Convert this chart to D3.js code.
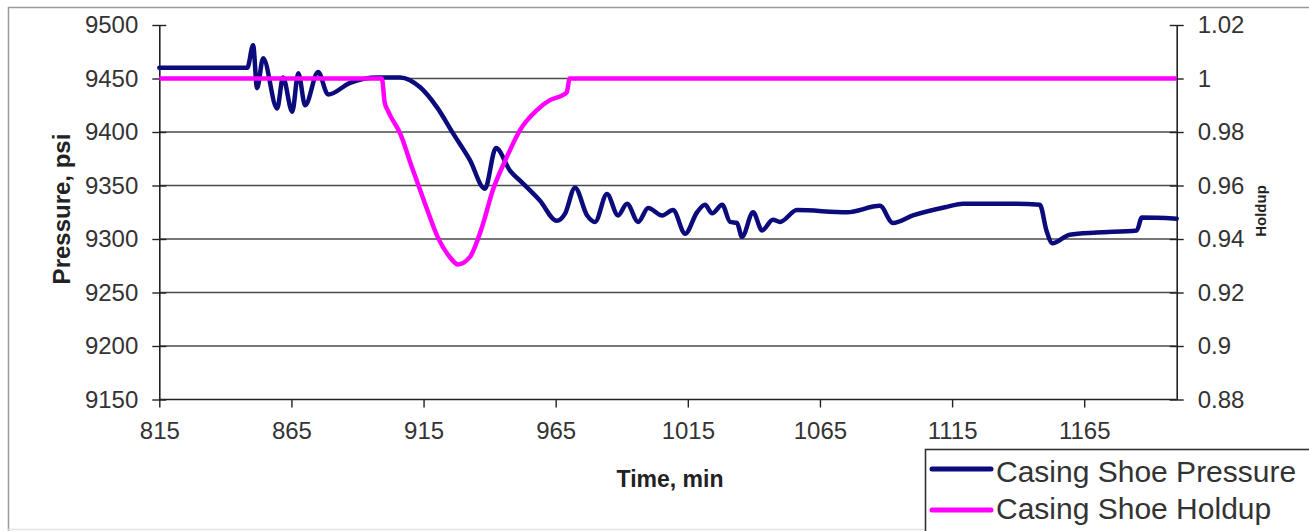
<!DOCTYPE html>
<html>
<head>
<meta charset="utf-8">
<script src="https://cdn.jsdelivr.net/npm/d3@7/dist/d3.min.js"></script>
<style>
  html, body { margin: 0; padding: 0; background: #fff; }
  svg { display: block; font-family: "Liberation Sans", Arial, sans-serif; }
</style>
</head>
<body>
<svg id="chart" width="1309" height="531"></svg>
<script>
// Time axis (min)
const timeTicks = [815, 865, 915, 965, 1015, 1065, 1115, 1165];
const pressureTicks = [9150, 9200, 9250, 9300, 9350, 9400, 9450, 9500];
const holdupTicks = [0.88, 0.90, 0.92, 0.94, 0.96, 0.98, 1.00, 1.02];
const holdupTickLabels = ["0.88", "0.9", "0.92", "0.94", "0.96", "0.98", "1", "1.02"];

// Casing shoe pressure, psi
const pressureTime = [
  815, 848.3, 850.5, 852, 854.3, 859.6, 861.8, 865.3, 867.6, 870.2, 875.1, 878.9,
  887.2, 897.4, 906.1, 913.6, 920.1, 926.1, 932.5, 938.2, 942.4, 947.7, 952.6,
  959, 965.4, 968.6, 972.3, 976.9, 979.9, 984.4, 988.6, 992, 996.2, 1000,
  1005.3, 1009.4, 1014, 1018.5, 1021.5, 1024.2, 1028, 1031, 1033.6, 1035.5,
  1039.7, 1043.1, 1047.2, 1049.9, 1056.3, 1075.2, 1087.7, 1092.6, 1100.2,
  1113, 1119.1, 1138, 1148.2, 1150.7, 1153, 1159.5, 1169.7, 1184.9, 1186.8, 1200
];
const pressureValue = [
  9460, 9460, 9481, 9441, 9469, 9422, 9451, 9419, 9455, 9425, 9456, 9435,
  9446, 9451, 9451, 9442, 9423, 9399, 9374, 9347, 9385, 9364, 9352,
  9336, 9317, 9324, 9348, 9322, 9316, 9342, 9322, 9333, 9316, 9329,
  9322, 9327, 9305, 9325, 9332, 9324, 9332, 9316, 9315, 9302,
  9325, 9308, 9318, 9316, 9327, 9325, 9331, 9315, 9322,
  9330, 9333, 9333, 9332, 9308, 9296, 9304, 9306, 9308, 9320, 9319
];

// Casing shoe liquid holdup
const holdupTime = [
  815, 899.2, 900.3, 901.5, 902.3, 906.1, 910.6, 915.5, 920.4, 925, 928,
  932.5, 937.1, 941.2, 946.5, 951.5, 957.9, 962.8, 967.7, 969.2, 970.3, 1200
];
const holdupValue = [
  1.0, 1.0, 0.991, 0.988, 0.9863, 0.9796, 0.9668, 0.9534, 0.9406, 0.9332, 0.9305,
  0.9332, 0.9444, 0.9582, 0.9706, 0.9807, 0.9882, 0.9919, 0.9938, 0.9949, 1.0, 1.0
];

const seriesNames = ["Casing Shoe Pressure", "Casing Shoe Holdup"];
const seriesColors = ["#0b0b7c", "#ff00ff"];

const svg = d3.select("#chart");
const textColor = "#333";

// outer chart frame
svg.append("path")
  .attr("d", "M8.5,531 V7.5 H1309")
  .attr("fill", "none").attr("stroke", "#9a9a9a").attr("stroke-width", 1.5);
svg.append("line").attr("x1", 8).attr("x2", 1309).attr("y1", 529.5).attr("y2", 529.5)
  .attr("stroke", "#e4e4e4").attr("stroke-width", 1.5);

const plotLeft = 159.3, plotRight = 1176.7, plotTop = 25, plotBottom = 399.5;
const x = d3.scaleLinear().domain([815, 1200]).range([plotLeft, plotRight]);
const yP = d3.scaleLinear().domain([9150, 9500]).range([plotBottom, plotTop]);
const yH = d3.scaleLinear().domain([0.88, 1.02]).range([plotBottom, plotTop]);

// horizontal gridlines
svg.append("g").selectAll("line")
  .data(pressureTicks.filter(v => v > 9150 && v < 9500))
  .join("line")
  .attr("x1", plotLeft).attr("x2", plotRight)
  .attr("y1", d => yP(d)).attr("y2", d => yP(d))
  .attr("stroke", "#4a4a4a").attr("stroke-width", 1.4);

function styleAxis(g) {
  g.select(".domain").attr("stroke", "#222").attr("stroke-width", 1.6);
  g.selectAll(".tick line").attr("stroke", "#222").attr("stroke-width", 1.4);
  g.selectAll(".tick text").attr("fill", textColor).attr("font-size", 24)
    .attr("font-family", "Liberation Sans, Arial, sans-serif");
}

// left axis (pressure), ticks crossing the axis line
const gL = svg.append("g").attr("transform", `translate(${plotLeft},0)`)
  .call(d3.axisLeft(yP).tickValues(pressureTicks).tickFormat(d3.format("d"))
    .tickSizeInner(7).tickSizeOuter(0).tickPadding(14));
gL.selectAll(".tick line").attr("x1", 7);
styleAxis(gL);

// right axis (holdup)
const gR = svg.append("g").attr("transform", `translate(${plotRight},0)`)
  .call(d3.axisRight(yH).tickValues(holdupTicks)
    .tickFormat((d, i) => holdupTickLabels[i])
    .tickSizeInner(7).tickSizeOuter(0).tickPadding(14));
gR.selectAll(".tick line").attr("x1", -7);
styleAxis(gR);

// bottom axis (time)
const gB = svg.append("g").attr("transform", `translate(0,${plotBottom})`)
  .call(d3.axisBottom(x).tickValues(timeTicks).tickFormat(d3.format("d"))
    .tickSizeInner(8).tickSizeOuter(0).tickPadding(14));
styleAxis(gB);
gB.select(".domain").attr("d", `M${plotLeft},0H${plotRight}`);

// axis titles
svg.append("text")
  .attr("transform", `translate(70,209) rotate(-90)`)
  .attr("text-anchor", "middle")
  .attr("font-size", 24).attr("font-weight", "bold").attr("fill", "#222")
  .text("Pressure, psi");
svg.append("text")
  .attr("x", 670).attr("y", 487)
  .attr("text-anchor", "middle")
  .attr("font-size", 23).attr("font-weight", "bold").attr("fill", "#222")
  .text("Time, min");
svg.append("text")
  .attr("transform", `translate(1266,211) rotate(-90)`)
  .attr("text-anchor", "middle")
  .attr("font-size", 15).attr("font-weight", "bold").attr("fill", "#222")
  .text("Holdup");

// series lines
const pressureData = pressureTime.map((t, i) => [t, pressureValue[i]]);
const holdupData = holdupTime.map((t, i) => [t, holdupValue[i]]);

const lineP = d3.line().x(d => x(d[0])).y(d => yP(d[1])).curve(d3.curveMonotoneX);
const lineH = d3.line().x(d => x(d[0])).y(d => yH(d[1])).curve(d3.curveMonotoneX);

svg.append("path").datum(pressureData)
  .attr("d", lineP).attr("fill", "none")
  .attr("stroke", seriesColors[0]).attr("stroke-width", 4.5)
  .attr("stroke-linejoin", "round").attr("stroke-linecap", "round");
svg.append("path").datum(holdupData)
  .attr("d", lineH).attr("fill", "none")
  .attr("stroke", seriesColors[1]).attr("stroke-width", 4.5)
  .attr("stroke-linejoin", "round");

// legend
const lg = svg.append("g");
lg.append("rect")
  .attr("x", 925.5).attr("y", 449.5).attr("width", 400).attr("height", 100)
  .attr("fill", "#fff").attr("stroke", "#333").attr("stroke-width", 1.6);
seriesNames.forEach((name, i) => {
  const cy = 469 + i * 41;
  lg.append("line")
    .attr("x1", 932).attr("x2", 991).attr("y1", cy).attr("y2", cy)
    .attr("stroke", seriesColors[i]).attr("stroke-width", 5)
    .attr("stroke-linecap", "round");
  lg.append("text")
    .attr("x", 996).attr("y", 482 + i * 37)
    .attr("font-size", 30).attr("fill", textColor)
    .text(name);
});
</script>
</body>
</html>
